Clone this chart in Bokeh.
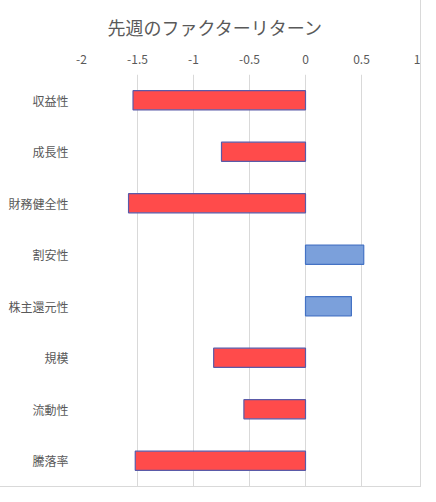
from bokeh.plotting import figure
from bokeh.models import ColumnDataSource, FixedTicker, CustomJSTickFormatter
from bokeh.embed import file_html
from bokeh.resources import INLINE

categories = ["収益性", "成長性", "財務健全性", "割安性", "株主還元性", "規模", "流動性", "騰落率"]
returns = [-1.54, -0.75, -1.58, 0.52, 0.41, -0.82, -0.55, -1.52]
tick_values = [-2, -1.5, -1, -0.5, 0, 0.5, 1]

fills = ["#FF4B4B" if v < 0 else "#7BA0DB" for v in returns]
lines = ["#5A5AA8" if v < 0 else "#4472C4" for v in returns]
src = ColumnDataSource(dict(cat=categories, val=returns, zero=[0] * len(returns), fill=fills, line=lines))

FONT = "Noto Sans CJK JP"

p = figure(frame_width=336, frame_height=412, output_backend="svg", toolbar_location=None,
           y_range=list(reversed(categories)), x_range=(-2, 1),
           x_axis_location="above",
           title="先週のファクターリターン",
           min_border_left=81, min_border_right=3, min_border_bottom=0, min_border_top=74)

p.hbar(y="cat", left="zero", right="val", height=0.37, source=src,
       fill_color="fill", line_color="line", line_width=1.2)

p.title.align = "left"
p.title.offset = 26
p.title.text_font = FONT
p.title.text_font_size = "18px"
p.title.text_font_style = "normal"
p.title.text_color = "#595959"
p.title.standoff = 23

p.xaxis.ticker = FixedTicker(ticks=tick_values)
p.xaxis.formatter = CustomJSTickFormatter(code="return String(tick);")
p.xaxis.axis_line_color = None
p.xaxis.major_tick_line_color = None
p.xaxis.minor_tick_line_color = None
p.xaxis.major_label_text_font = FONT
p.xaxis.major_label_text_font_size = "12px"
p.xaxis.major_label_text_color = "#595959"
p.xaxis.major_label_standoff = 5

p.yaxis.axis_line_color = None
p.yaxis.major_tick_line_color = None
p.yaxis.minor_tick_line_color = None
p.yaxis.major_label_text_font = FONT
p.yaxis.major_label_text_font_size = "12px"
p.yaxis.major_label_text_color = "#595959"
p.yaxis.major_label_standoff = 7

p.xgrid.grid_line_color = "#D9D9D9"
p.xgrid.grid_line_width = 1
p.ygrid.grid_line_color = None
p.outline_line_color = None
p.border_fill_color = "white"
p.background_fill_color = "white"
p.styles = {"outline": "1px solid #D9D9D9"}

open("out.html", "w").write(file_html(p, INLINE))
